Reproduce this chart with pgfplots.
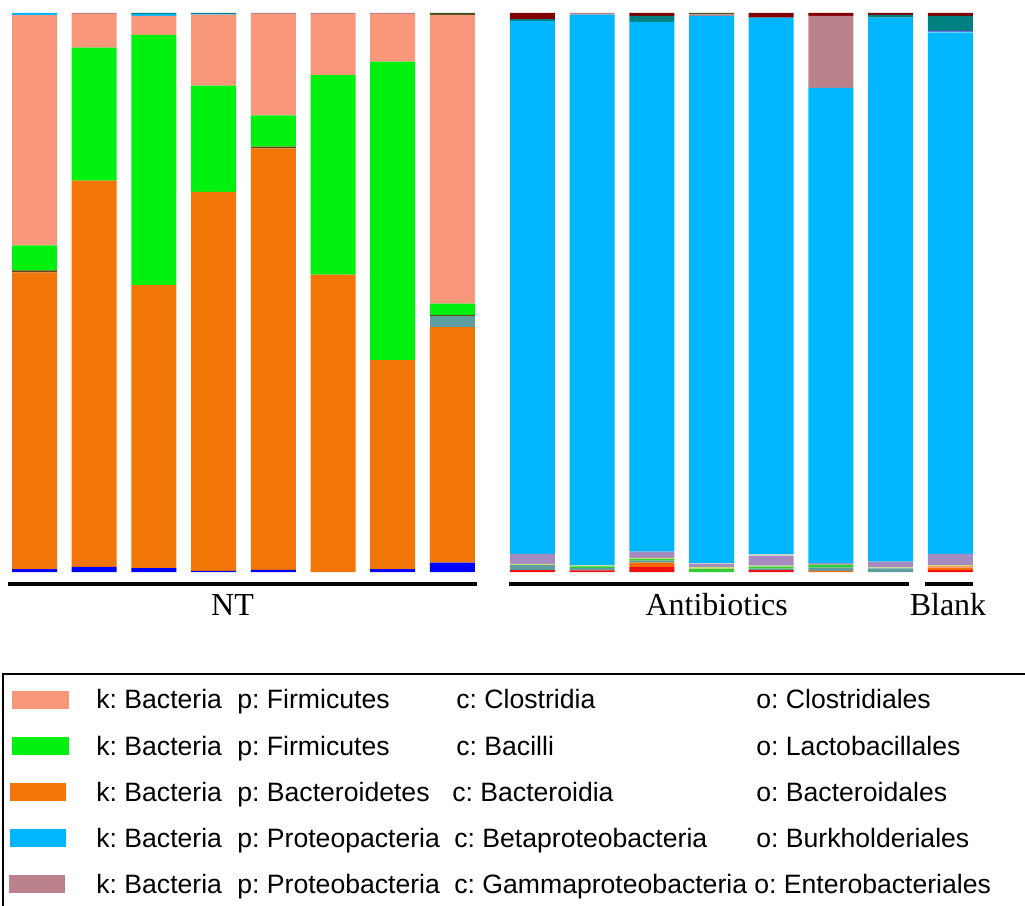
\documentclass[border=0pt]{standalone}
\usepackage{pgfplots}
\pgfplotsset{compat=1.18}
\usepackage{pgfplotstable}
\usepackage{fontspec}
\setmainfont{Liberation Serif}
\newfontfamily\arial{Liberation Sans}
\frenchspacing

\definecolor{cRed}{HTML}{F01010}
\definecolor{cOrr}{HTML}{FF6A00}
\definecolor{cSal}{HTML}{F9A070}
\definecolor{cCad}{HTML}{5F9EA0}
\definecolor{cLim}{HTML}{32CD32}
\definecolor{cYel}{HTML}{C8DC78}
\definecolor{cLav}{HTML}{A68BC0}
\definecolor{cGry}{HTML}{D0D0D0}
\definecolor{cDbl}{HTML}{0000FF}
\definecolor{cOrg}{HTML}{F27507}
\definecolor{cDkl}{HTML}{5B4A14}
\definecolor{cGrn}{HTML}{00F00F}
\definecolor{cSlm}{HTML}{F8977A}
\definecolor{cBlu}{HTML}{00B7FF}
\definecolor{cPur}{HTML}{7B68EE}
\definecolor{cRos}{HTML}{BC828C}
\definecolor{cTel}{HTML}{008080}
\definecolor{cMar}{HTML}{800000}
\definecolor{cOlv}{HTML}{4B5320}

\pgfplotstableread{
x     red  orr  sal  cad  lim  yel  lav  gry  dbl  org  cdm  dkl  grn  slm   blu   pur  ros  tel  mar  olv
0     0    0    0    0    0    0    0    0    0.5  53.1 0    0.35 4.5  41.15 0.4   0    0    0    0    0
1     0    0    0    0    0    0    0    0    0.9  69.1 0    0    23.8 6.0   0     0    0.2  0    0    0
2     0    0    0    0    0    0    0    0    0.7  50.6 0    0    44.8 3.4   0.3   0    0    0.2  0    0
3     0    0    0    0    0    0    0    0    0.2  67.8 0    0    19.0 12.7  0.15  0    0    0.15 0    0
4     0    0    0    0    0    0    0    0    0.4  75.4 0    0.3  5.6  18.1  0     0    0.2  0    0    0
5     0    0    0    0    0    0    0    0    0    53.2 0    0    35.7 10.9  0     0    0.2  0    0    0
6     0    0    0    0    0    0    0    0    0.5  37.4 0    0    53.4 8.5   0     0    0.2  0    0    0
7     0    0    0    0    0    0    0    0    1.7  42.1 2.0  0.2  2.0  51.6  0     0    0    0    0    0.4
8.34  0.35 0    0    0.9  0    0.2  1.8  0    0    0    0    0    0    0     95.3  0    0    0.35 1.1  0
9.34  0.3  0    0    0.45 0.25 0.2  0    0    0    0    0    0    0    0     98.5  0    0.3  0    0    0
10.34 0.9  0.8  0    0.35 0.25 0.25 1.1  0    0    0    0    0    0    0     94.75 0    0    1.1  0.5  0
11.34 0    0    0    0    0.55 0.35 0.5  0.2  0    0    0    0    0    0     97.9  0    0.25 0    0    0.25
12.34 0.35 0    0    0.25 0.35 0.2  1.7  0.35 0    0    0    0    0    0     95.95 0    0    0    0.85 0
13.34 0    0.2  0    0.6  0.5  0    0.35 0    0    0    0    0    0    0     84.95 0    12.9 0    0.5  0
14.34 0    0    0    0.65 0    0.2  1.0  0    0    0    0    0    0    0     97.3  0    0    0.5  0.35 0
15.34 0.35 0.35 0.35 0    0    0.2  2.0  0    0    0    0    0    0    0     93.3  0.25 0    2.7  0.5  0
}\data

\begin{document}
\begin{tikzpicture}
\begin{axis}[at={(0,0)}, anchor=south west, scale only axis,
  width=512.5bp, height=279.5bp,
  xmin=-0.578, xmax=16.591, ymin=0, ymax=100,
  hide axis, clip=false,
  ybar stacked, bar width=0.754,
  every axis plot/.append style={draw=none}]
\addplot[fill=cRed] table[x=x,y=red]{\data};
\addplot[fill=cOrr] table[x=x,y=orr]{\data};
\addplot[fill=cSal] table[x=x,y=sal]{\data};
\addplot[fill=cCad] table[x=x,y=cad]{\data};
\addplot[fill=cLim] table[x=x,y=lim]{\data};
\addplot[fill=cYel] table[x=x,y=yel]{\data};
\addplot[fill=cLav] table[x=x,y=lav]{\data};
\addplot[fill=cGry] table[x=x,y=gry]{\data};
\addplot[fill=cDbl] table[x=x,y=dbl]{\data};
\addplot[fill=cOrg] table[x=x,y=org]{\data};
\addplot[fill=cCad] table[x=x,y=cdm]{\data};
\addplot[fill=cDkl] table[x=x,y=dkl]{\data};
\addplot[fill=cGrn] table[x=x,y=grn]{\data};
\addplot[fill=cSlm] table[x=x,y=slm]{\data};
\addplot[fill=cBlu] table[x=x,y=blu]{\data};
\addplot[fill=cPur] table[x=x,y=pur]{\data};
\addplot[fill=cRos] table[x=x,y=ros]{\data};
\addplot[fill=cTel] table[x=x,y=tel]{\data};
\addplot[fill=cMar] table[x=x,y=mar]{\data};
\addplot[fill=cOlv] table[x=x,y=olv]{\data};
\end{axis}
\begin{scope}[x=0.5bp, y=-0.5bp, yshift=286bp]
  % group lines
  \draw[line width=2bp] (7.5,583.7) -- (477,583.7);
  \draw[line width=2bp] (508.5,583.7) -- (909,583.7);
  \draw[line width=2bp] (925,583.7) -- (972.5,583.7);
  \node[anchor=base, inner sep=0pt, font=\fontsize{16bp}{18bp}\selectfont] at (232.5,615) {NT};
  \node[anchor=base, inner sep=0pt, font=\fontsize{16bp}{18bp}\selectfont] at (716.7,615) {Antibiotics};
  \node[anchor=base, inner sep=0pt, font=\fontsize{16bp}{18bp}\selectfont] at (948,615) {Blank};
  % legend frame
  \draw[line width=1bp] (3,906) -- (3,674) -- (1025,674);
  % legend swatches
  \fill[cSlm] (12,691) rectangle (69,709);
  \fill[cGrn] (12,737) rectangle (69,755);
  \fill[cOrg] (10,783) rectangle (66,801);
  \fill[cBlu] (10,829) rectangle (66,847);
  \fill[cRos] (9,875) rectangle (65,893);
  \begin{scope}[every node/.style={anchor=base west, inner sep=0pt, font=\arial\fontsize{13.3bp}{15bp}\selectfont}]
    \node at (96,709) {k: Bacteria};
    \node at (237,709) {p: Firmicutes};
    \node at (456,709) {c: Clostridia};
    \node at (756,709) {o: Clostridiales};
    \node at (96,755) {k: Bacteria};
    \node at (237,755) {p: Firmicutes};
    \node at (456,755) {c: Bacilli};
    \node at (756,755) {o: Lactobacillales};
    \node at (96,801) {k: Bacteria};
    \node at (237,801) {p: Bacteroidetes};
    \node at (452,801) {c: Bacteroidia};
    \node at (756,801) {o: Bacteroidales};
    \node at (96,847) {k: Bacteria};
    \node at (237,847) {p: Proteopacteria};
    \node at (454,847) {c: Betaproteobacteria};
    \node at (756,847) {o: Burkholderiales};
    \node at (96,893) {k: Bacteria};
    \node at (237,893) {p: Proteobacteria};
    \node at (454,893) {c: Gammaproteobacteria};
    \node at (754,893) {o: Enterobacteriales};
  \end{scope}
  \pgfresetboundingbox
  \path[use as bounding box] (0,0) rectangle (1025,906);
\end{scope}
\end{tikzpicture}
\end{document}
